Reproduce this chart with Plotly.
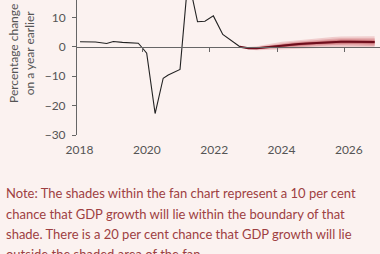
import plotly.graph_objects as go

# ---- data ----
actual_x = [2018.14, 2018.6, 2018.93, 2019.13, 2019.4, 2019.87, 2020.0, 2020.12,
            2020.37, 2020.61, 2020.76, 2021.11, 2021.35, 2021.63, 2021.85, 2022.10,
            2022.38, 2022.89]
actual_y = [1.7, 1.6, 1.1, 1.8, 1.5, 1.2, -0.5, -2.2,
            -22.7, -10.7, -9.6, -7.7, 23.5, 8.5, 8.7, 10.5,
            4.2, 0.0]

fc_x = [2022.89, 2023.14, 2023.39, 2023.64, 2023.89, 2024.14, 2024.39, 2024.64,
        2024.89, 2025.14, 2025.39, 2025.64, 2025.89, 2026.14, 2026.39, 2026.64, 2026.89]
fc_central = [0.0, -0.5, -0.5, -0.2, 0.2, 0.5, 0.7, 0.9,
              1.1, 1.3, 1.5, 1.6, 1.7, 1.7, 1.7, 1.6, 1.6]
fc_spread = [0.0, 0.4, 0.7, 0.9, 1.1, 1.2, 1.3, 1.4,
             1.5, 1.6, 1.7, 1.7, 1.8, 1.8, 1.9, 1.9, 2.0]
band_fractions = [1.0, 0.66, 0.41, 0.2]
band_colors = ["#F0CDCD", "#E4A9AB", "#D28488", "#B5525A"]

year_ticks = [2018, 2020, 2022, 2024, 2026]
label_pos = [2018.125, 2020.125, 2022.125, 2024.125, 2026.125]
y_ticks = [-30, -20, -10, 0, 10]
x_range = [2018.05, 2027.05]
y_range = [-30, 15.9]

note_lines = [
    "Note: The shades within the fan chart represent a 10 per cent",
    "chance that GDP growth will lie within the boundary of that",
    "shade. There is a 20 per cent chance that GDP growth will lie",
    "outside the shaded area of the fan.",
]

BG = "#FBF2F0"
AX = "#666666"
TXT = "#555555"
NOTE = "#9E3F42"

fig = go.Figure()

for frac, col in zip(band_fractions, band_colors):
    upper = [c + frac * s for c, s in zip(fc_central, fc_spread)]
    lower = [c - frac * s for c, s in zip(fc_central, fc_spread)]
    fig.add_trace(go.Scatter(x=fc_x, y=upper, mode="lines", line=dict(width=0, color=col),
                             hoverinfo="skip", showlegend=False))
    fig.add_trace(go.Scatter(x=fc_x, y=lower, mode="lines", line=dict(width=0, color=col),
                             fill="tonexty", fillcolor=col, hoverinfo="skip", showlegend=False))

fig.add_trace(go.Scatter(x=fc_x, y=fc_central, mode="lines",
                         line=dict(color="#6E0E1C", width=2), showlegend=False))
fig.add_trace(go.Scatter(x=actual_x, y=actual_y, mode="lines",
                         line=dict(color="#222222", width=1.1), showlegend=False))

zero_pos = (0 - y_range[0]) / (y_range[1] - y_range[0])

fig.update_layout(
    width=380, height=254,
    margin=dict(l=77, r=0, t=0, b=119),
    paper_bgcolor=BG, plot_bgcolor=BG,
    font=dict(family="Lato", size=12, color=TXT),
    xaxis=dict(range=x_range, tickvals=label_pos, ticktext=[str(v) for v in year_ticks],
               showgrid=False, zeroline=False, showline=False, ticks="",
               ticklabelstandoff=6,
               tickfont=dict(size=12, color=TXT)),
    xaxis2=dict(range=x_range, overlaying="x", anchor="free", position=zero_pos,
                side="bottom", tickvals=year_ticks, showticklabels=False,
                showgrid=False, zeroline=False, showline=True, linecolor=AX,
                linewidth=1, ticks="outside", ticklen=4, tickcolor=AX),
    yaxis=dict(range=y_range, tickvals=y_ticks, showgrid=False, zeroline=False,
               showline=True, linecolor=AX, linewidth=1, ticks="outside",
               ticklen=4, tickcolor=AX, ticklabelstandoff=4,
               tickfont=dict(size=12, color=TXT)),
)

# dummy trace so xaxis2 renders
fig.add_trace(go.Scatter(x=[None], y=[None], xaxis="x2", showlegend=False, hoverinfo="skip"))

fig.add_annotation(text="Percentage change<br>on a year earlier", xref="paper", yref="paper",
                   x=-56 / 303, y=1 - 54 / 135, textangle=-90, showarrow=False,
                   xanchor="center", yanchor="middle",
                   font=dict(family="Lato", size=12, color=TXT))

note_y_px = [193, 213.5, 234, 254.5]
for line, py in zip(note_lines, note_y_px):
    fig.add_annotation(text=line, xref="paper", yref="paper",
                       x=-73 / 303, y=1 - py / 135, showarrow=False,
                       xanchor="left", yanchor="middle",
                       font=dict(family="Lato", size=13, color=NOTE))

fig.write_html("out.html")
